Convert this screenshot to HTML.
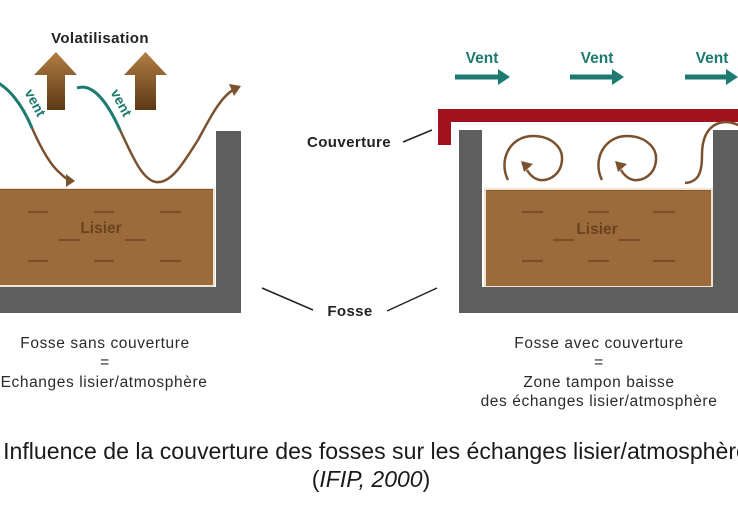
<!DOCTYPE html>
<html><head><meta charset="utf-8"><style>
html,body{margin:0;padding:0;background:#fff;}
svg{display:block;}
text{font-family:"Liberation Sans",Arial,sans-serif;}
</style></head><body>
<svg width="738" height="507" viewBox="0 0 738 507" xmlns="http://www.w3.org/2000/svg">
<defs>
<linearGradient id="ag" x1="0" y1="0" x2="0" y2="1">
<stop offset="0" stop-color="#b27d42"/>
<stop offset="1" stop-color="#5c3915"/>
</linearGradient>
</defs>
<rect width="738" height="507" fill="#fff"/>

<!-- LEFT PIT -->
<rect x="0" y="287" width="241" height="26" fill="#5e5e5e"/>
<rect x="216" y="131" width="25" height="182" fill="#5e5e5e"/>
<rect x="0" y="188" width="215" height="99" fill="#efe3d2"/>
<rect x="0" y="189" width="213" height="96" fill="#9c6b3b"/>
<line x1="0" y1="189.5" x2="213" y2="189.5" stroke="#855628" stroke-width="1"/>
<g stroke="#7a4f29" stroke-width="2.2">
<line x1="28" y1="212" x2="48" y2="212"/><line x1="94" y1="212" x2="114" y2="212"/><line x1="160" y1="212" x2="181" y2="212"/>
<line x1="59" y1="240" x2="80" y2="240"/><line x1="125" y1="240" x2="146" y2="240"/>
<line x1="28" y1="261" x2="48" y2="261"/><line x1="94" y1="261" x2="114" y2="261"/><line x1="160" y1="261" x2="181" y2="261"/>
</g>
<text x="101" y="233" font-size="15.5" font-weight="bold" fill="#6a4220" text-anchor="middle">Lisier</text>

<!-- Volatilisation -->
<text x="100" y="43" font-size="15" font-weight="bold" fill="#222" text-anchor="middle" letter-spacing="0.4">Volatilisation</text>
<path d="M47 110 L47 75 L34 75 L56 52 L77 75 L65 75 L65 110 Z" fill="url(#ag)"/>
<path d="M135 110 L135 75 L124 75 L145.5 52 L167 75 L156 75 L156 110 Z" fill="url(#ag)"/>

<!-- wave 1 -->
<path d="M-8 80 C 8 86, 22 104, 32 128" fill="none" stroke="#1c7a70" stroke-width="3"/>
<path d="M32 128 C 40 146, 50 165, 60 173 C 64 177, 67 179, 68 179.5" fill="none" stroke="#7b5230" stroke-width="2.5"/>
<path d="M75 181 L66 174 L66 187 Z" fill="#7b5230"/>
<!-- wave 2 -->
<path d="M77 88 C 95 82, 110 108, 120 130" fill="none" stroke="#1c7a70" stroke-width="3"/>
<path d="M120 130 C 132 155, 142 180, 156 182 C 172 184, 185 160, 198 140 C 210 118, 220 98, 233 90" fill="none" stroke="#7b5230" stroke-width="2.5"/>
<path d="M241 86 L229 84 L234 96 Z" fill="#7b5230"/>
<text x="0" y="0" font-size="14" font-weight="bold" fill="#1c7a70" text-anchor="middle" transform="translate(31 105) rotate(62)">vent</text>
<text x="0" y="0" font-size="14" font-weight="bold" fill="#1c7a70" text-anchor="middle" transform="translate(117 105) rotate(62)">vent</text>

<!-- RIGHT PIT -->
<rect x="459" y="287" width="279" height="26" fill="#5e5e5e"/>
<rect x="459" y="130" width="23" height="183" fill="#5e5e5e"/>
<rect x="713" y="130" width="25" height="183" fill="#5e5e5e"/>
<rect x="484" y="188" width="229" height="99" fill="#efe3d2"/>
<rect x="486" y="190" width="225" height="96" fill="#9c6b3b"/>
<line x1="486" y1="190.5" x2="711" y2="190.5" stroke="#855628" stroke-width="1"/>
<g stroke="#7a4f29" stroke-width="2.2">
<line x1="522" y1="212" x2="543" y2="212"/><line x1="588" y1="212" x2="609" y2="212"/><line x1="653" y1="212" x2="675" y2="212"/>
<line x1="553" y1="240" x2="574" y2="240"/><line x1="619" y1="240" x2="640" y2="240"/>
<line x1="522" y1="261" x2="543" y2="261"/><line x1="588" y1="261" x2="609" y2="261"/><line x1="653" y1="261" x2="675" y2="261"/>
</g>
<text x="597" y="234" font-size="15.5" font-weight="bold" fill="#6a4220" text-anchor="middle">Lisier</text>

<!-- cover -->
<path d="M438 109 L738 109 L738 122 L451 122 L451 145 L438 145 Z" fill="#a3101e"/>

<!-- Vent arrows -->
<g fill="#1c7a70">
<rect x="455" y="74.5" width="45" height="5"/><path d="M498 69 L510 77 L498 85 Z"/>
<rect x="570" y="74.5" width="44" height="5"/><path d="M612 69 L624 77 L612 85 Z"/>
<rect x="685" y="74.5" width="43" height="5"/><path d="M726 69 L738 77 L726 85 Z"/>
</g>
<g font-size="15.5" font-weight="bold" fill="#1c7a70" text-anchor="middle">
<text x="482" y="63">Vent</text>
<text x="597" y="63">Vent</text>
<text x="712" y="63">Vent</text>
</g>

<!-- spirals -->
<g fill="none" stroke="#7b5230" stroke-width="2.5">
<path d="M508 180 C 498 160, 510 136, 533 136 C 552 136, 563 148, 562 160 C 561 174, 550 181, 540 180 C 534 179, 530 175, 527 170"/>
<path d="M602 180 C 592 160, 604 136, 627 136 C 646 136, 657 148, 656 160 C 655 174, 644 181, 634 180 C 628 179, 624 175, 621 170"/>
<path d="M685 183 C 700 182, 702 170, 702 155 C 702 135, 710 123, 725 122 C 732 122, 736 124, 740 126"/>
</g>
<path d="M521 161 L533 164 L524 172 Z" fill="#7b5230"/>
<path d="M615 161 L627 164 L618 172 Z" fill="#7b5230"/>

<!-- labels -->
<text x="349" y="147" font-size="15" font-weight="bold" fill="#222" text-anchor="middle" letter-spacing="0.4">Couverture</text>
<line x1="403" y1="142" x2="432" y2="130" stroke="#222" stroke-width="1.5"/>
<text x="350" y="316" font-size="15" font-weight="bold" fill="#222" text-anchor="middle" letter-spacing="0.4">Fosse</text>
<line x1="262" y1="288" x2="313" y2="310" stroke="#222" stroke-width="1.5"/>
<line x1="387" y1="311" x2="437" y2="288" stroke="#222" stroke-width="1.5"/>

<!-- captions -->
<g font-size="15.5" fill="#2a2a2a" text-anchor="middle" letter-spacing="0.6">
<text x="105" y="348">Fosse sans couverture</text>
<text x="105" y="367">=</text>
<text x="104" y="387">Echanges lisier/atmosphère</text>
<text x="599" y="348">Fosse avec couverture</text>
<text x="599" y="367">=</text>
<text x="599" y="387">Zone tampon baisse</text>
<text x="599" y="406">des échanges lisier/atmosphère</text>
</g>

<text x="376" y="459" font-size="23.1" fill="#1a1a1a" text-anchor="middle">Influence de la couverture des fosses sur les échanges lisier/atmosphère</text>
<text x="371" y="487" font-size="23" fill="#1a1a1a" text-anchor="middle">(<tspan font-style="italic">IFIP, 2000</tspan>)</text>
</svg>
</body></html>
